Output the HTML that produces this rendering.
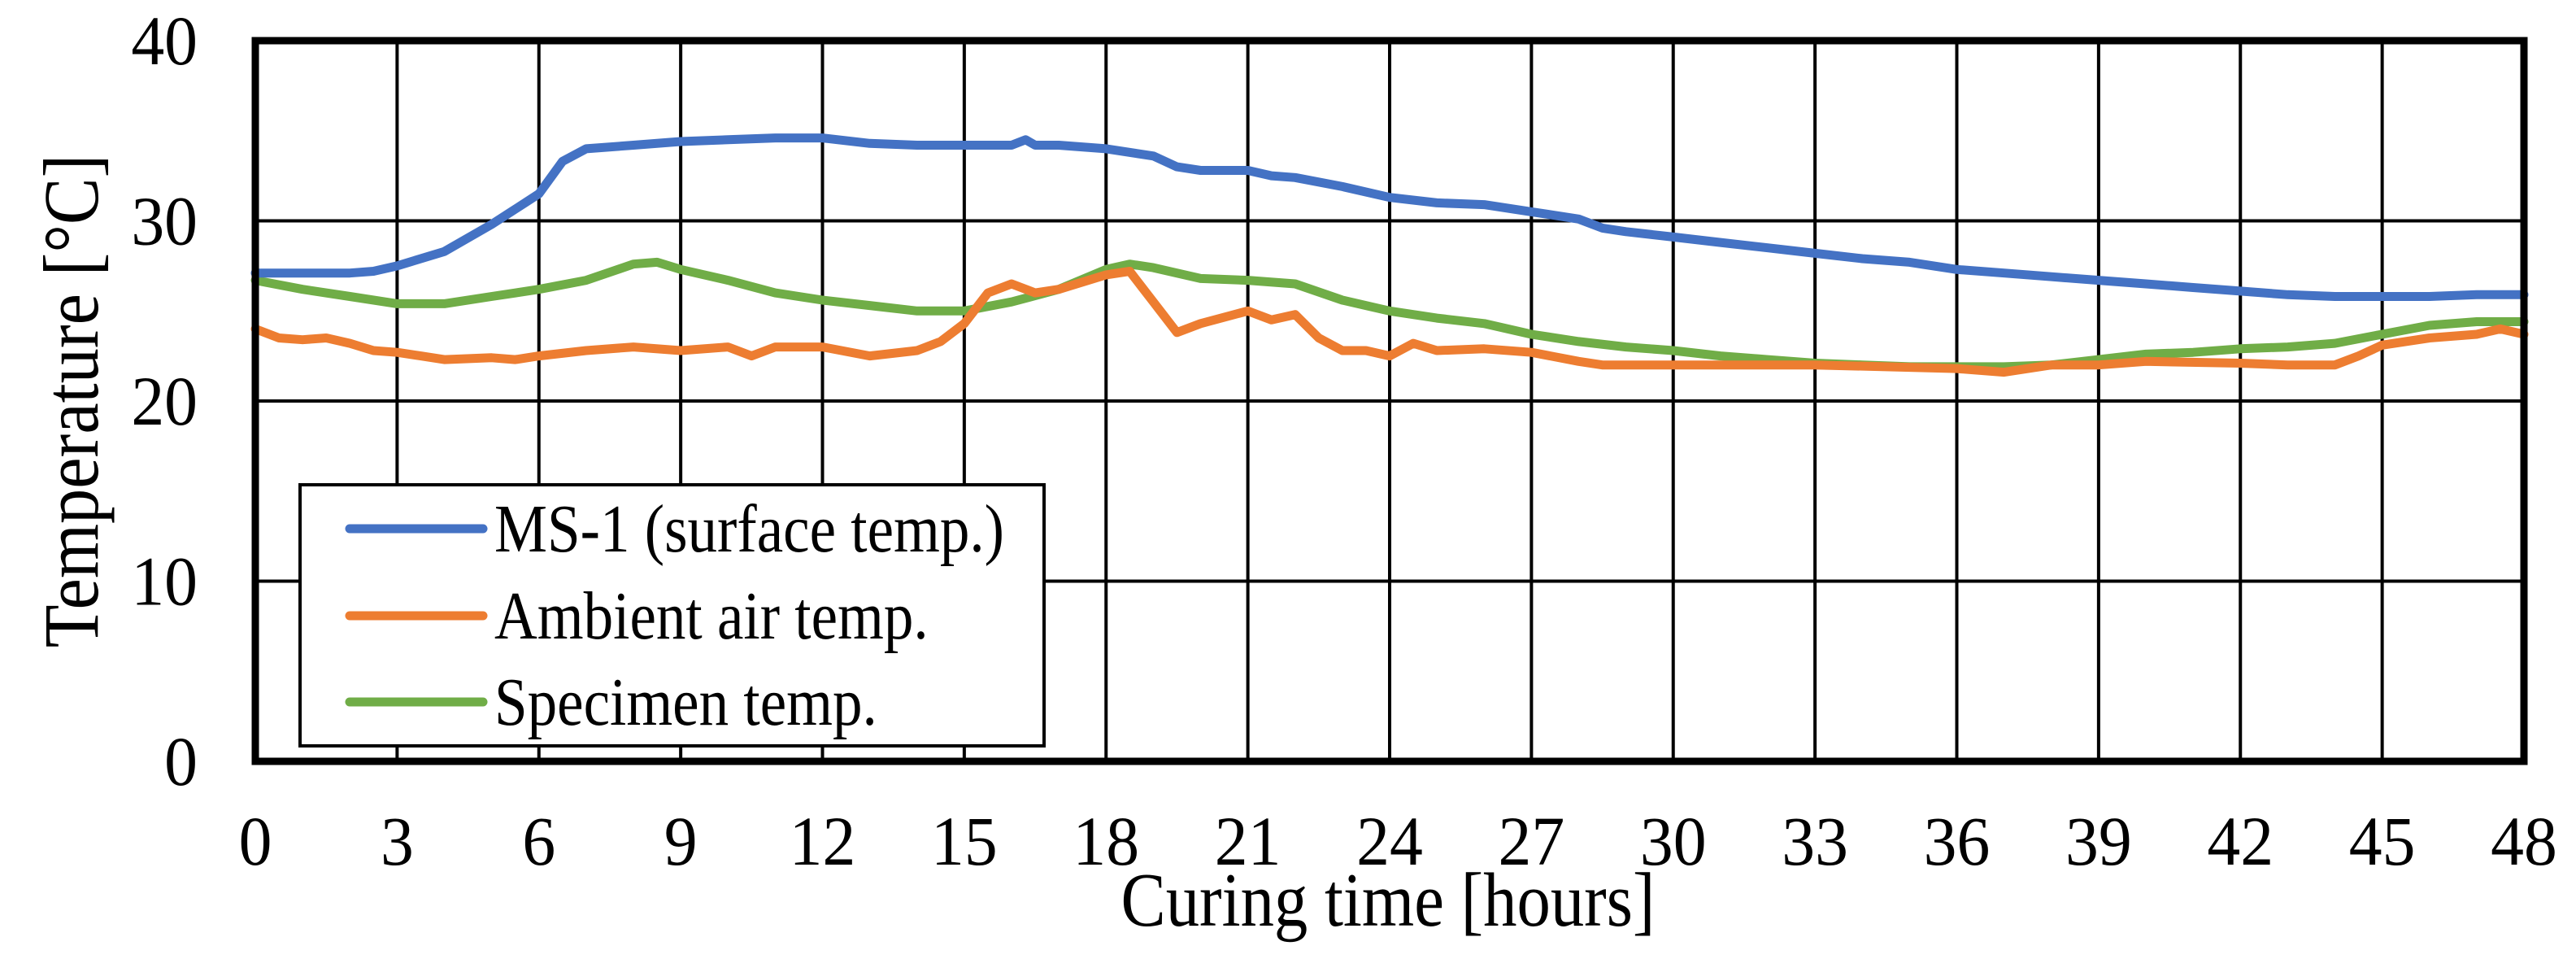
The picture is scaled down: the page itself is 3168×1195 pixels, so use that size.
<!DOCTYPE html>
<html><head><meta charset="utf-8"><style>
html,body{margin:0;padding:0;background:#fff;}
svg text{font-family:"Liberation Serif","Times New Roman",serif;fill:#000;}
</style></head><body>
<svg id="chart" width="3168" height="1190" viewBox="0 0 3168 1190" xmlns="http://www.w3.org/2000/svg">
<g id="grid"></g>
<g id="series"></g>
<g id="axes"></g>
<text x="0" y="0" font-size="94" text-anchor="middle" transform="translate(1707,1138) scale(0.88,1)">Curing time [hours]</text>
<text x="0" y="0" font-size="96" text-anchor="middle" transform="translate(120,493) rotate(-90) scale(0.9,1)">Temperature [°C]</text>
<g>
<rect x="369" y="596" width="915" height="321" fill="#fff" stroke="#000" stroke-width="4"/>
<line x1="430" y1="650" x2="594" y2="650" stroke="#4472C4" stroke-width="11" stroke-linecap="round"/>
<text x="0" y="0" font-size="84" transform="translate(608,678) scale(0.87,1)">MS-1 (surface temp.)</text>
<line x1="430" y1="757" x2="594" y2="757" stroke="#ED7D31" stroke-width="11" stroke-linecap="round"/>
<text x="0" y="0" font-size="84" transform="translate(608,785) scale(0.87,1)">Ambient air temp.</text>
<line x1="430" y1="863" x2="594" y2="863" stroke="#70AD47" stroke-width="11" stroke-linecap="round"/>
<text x="0" y="0" font-size="84" transform="translate(608,891) scale(0.87,1)">Specimen temp.</text>
</g>
</svg>
<script>
const xTicks=[0,3,6,9,12,15,18,21,24,27,30,33,36,39,42,45,48];
const yTicks=[0,10,20,30,40];
const msTime=[0,1,2,2.5,3,4,5,6,6.5,7,8,9,10,11,12,13,14,15,16,16.3,16.5,17,18,19,19.5,20,21,21.5,22,23,24,25,26,27,28,28.5,29,30,31,32,33,34,35,36,37,38,39,40,41,42,43,44,45,46,47,48];
const msTemp=[27.1,27.1,27.1,27.2,27.5,28.3,29.8,31.5,33.3,34,34.2,34.4,34.5,34.6,34.6,34.3,34.2,34.2,34.2,34.5,34.2,34.2,34,33.6,33,32.8,32.8,32.5,32.4,31.9,31.3,31,30.9,30.5,30.1,29.6,29.4,29.1,28.8,28.5,28.2,27.9,27.7,27.3,27.1,26.9,26.7,26.5,26.3,26.1,25.9,25.8,25.8,25.8,25.9,25.9];
const ambTime=[0,0.5,1,1.5,2,2.5,3,3.5,4,5,5.5,6,7,8,9,10,10.5,11,12,13,14,14.5,15,15.5,16,16.5,17,18,18.5,19,19.5,20,21,21.5,22,22.5,23,23.5,24,24.5,25,26,27,28,28.5,30,33,36,37,38,39,40,42,43,44,44.5,45,46,47,47.5,48];
const ambTemp=[24,23.5,23.4,23.5,23.2,22.8,22.7,22.5,22.3,22.4,22.3,22.5,22.8,23,22.8,23,22.5,23,23,22.5,22.8,23.3,24.3,26,26.5,26,26.2,27,27.2,25.5,23.8,24.3,25,24.5,24.8,23.5,22.8,22.8,22.5,23.2,22.8,22.9,22.7,22.2,22,22,22,21.8,21.6,22,22,22.2,22.1,22,22,22.5,23.1,23.5,23.7,24,23.7];
const specTime=[0,1,2,3,4,5,6,7,8,8.5,9,10,11,12,13,14,15,16,17,18,18.5,19,20,21,22,23,24,25,26,27,28,29,30,31,32,33,34,35,36,37,38,39,40,41,42,43,44,45,46,47,48];
const specTemp=[26.7,26.2,25.8,25.4,25.4,25.8,26.2,26.7,27.6,27.7,27.3,26.7,26,25.6,25.3,25,25,25.5,26.2,27.3,27.6,27.4,26.8,26.7,26.5,25.6,25,24.6,24.3,23.7,23.3,23,22.8,22.5,22.3,22.1,22,21.9,21.9,21.9,22,22.3,22.6,22.7,22.9,23,23.2,23.7,24.2,24.4,24.4];
const NS='http://www.w3.org/2000/svg';
const L=314,R=3104,T=50,B=936;
function xs(v){return L+(v-0)/(48-0)*(R-L);}
function ys(v){return B-(v-0)/(40-0)*(B-T);}
function mk(tag,attrs,parent){const e=document.createElementNS(NS,tag);for(const k in attrs)e.setAttribute(k,attrs[k]);parent.appendChild(e);return e;}
const grid=document.getElementById('grid'),axes=document.getElementById('axes'),series=document.getElementById('series');
xTicks.forEach(t=>{
  const g=mk('line',{x1:xs(t),x2:xs(t),y1:T,y2:B,stroke:'#000','stroke-width':4},grid);
  
  
  const tx=mk('text',{x:0,y:0,'font-size':86,'text-anchor':'middle',transform:'translate('+xs(t)+',1063) scale(0.95,1)'},axes);
  tx.textContent=t;
  
  
});
yTicks.forEach(t=>{
  const g=mk('line',{x1:L,x2:R,y1:ys(t),y2:ys(t),stroke:'#000','stroke-width':4},grid);
  
  
  const tx=mk('text',{x:0,y:0,'font-size':86,'text-anchor':'end',transform:'translate(243,'+(ys(t)+29)+') scale(0.95,1)'},axes);
  tx.textContent=t;
  
  
});
const frame=mk('rect',{x:L,y:T,width:R-L,height:B-T,fill:'none',stroke:'#000','stroke-width':9},axes);


function drawLine(xsArr,ysArr,color,name){
  const d=xsArr.map((x,i)=>(i?'L':'M')+xs(x).toFixed(1)+' '+ys(ysArr[i]).toFixed(1)).join(' ');
  const p=mk('path',{d:d,fill:'none',stroke:color,'stroke-width':11,'stroke-linejoin':'round','stroke-linecap':'round'},series);
  
  
}
drawLine(specTime,specTemp,'#70AD47','specimen-temp-line');
drawLine(ambTime,ambTemp,'#ED7D31','ambient-temp-line');
drawLine(msTime,msTemp,'#4472C4','ms1-surface-temp-line');
</script>
</body></html>
